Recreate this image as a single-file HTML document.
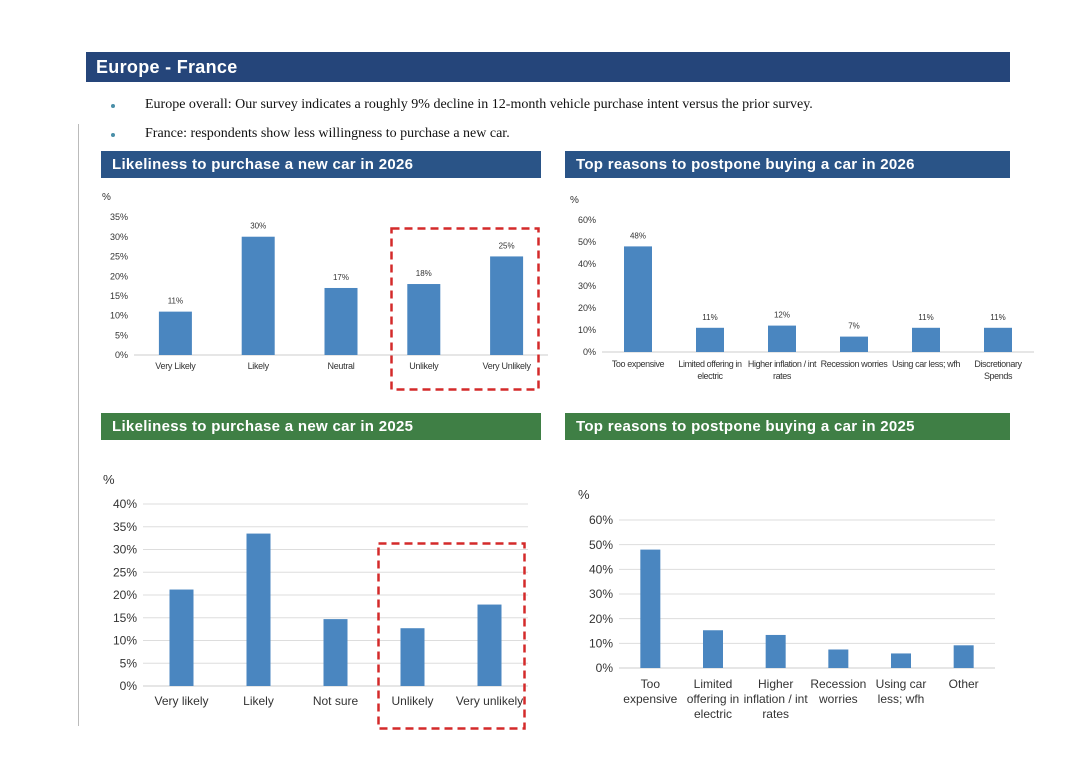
<!DOCTYPE html>
<html><head><meta charset="utf-8">
<style>
body{margin:0;width:1080px;height:764px;background:#fff;position:relative;overflow:hidden;font-family:"Liberation Sans",sans-serif}
.abs{position:absolute}
.hdr{position:absolute;color:#fff;font-weight:bold;font-size:15px;line-height:27px;padding-left:11px;box-sizing:border-box;letter-spacing:0.3px}
.bul{position:absolute;font-family:"Liberation Serif",serif;font-size:14px;color:#111}
.dot{position:absolute;width:4px;height:4px;border-radius:50%;background:#4a8fa8}
svg{position:absolute;left:0;top:0}
</style></head><body>
<div class="hdr" style="left:86px;top:52px;width:924px;height:30px;background:#25457a;font-size:18px;line-height:30px;padding-left:10px">Europe - France</div>
<div class="dot" style="left:111px;top:104px"></div>
<div class="bul" style="left:145px;top:97px">Europe overall: Our survey indicates a roughly 9% decline in 12-month vehicle purchase intent versus the prior survey.</div>
<div class="dot" style="left:111px;top:133px"></div>
<div class="bul" style="left:145px;top:126px">France: respondents show less willingness to purchase a new car.</div>
<div class="abs" style="left:78px;top:124px;width:1px;height:602px;background:#bbb"></div>
<div class="hdr" style="left:101px;top:151px;width:440px;height:27px;background:#2a5487">Likeliness to purchase a new car in 2026</div>
<div class="hdr" style="left:565px;top:151px;width:445px;height:27px;background:#2a5487">Top reasons to postpone buying a car in 2026</div>
<div class="hdr" style="left:101px;top:413px;width:440px;height:27px;background:#3f7f45">Likeliness to purchase a new car in 2025</div>
<div class="hdr" style="left:565px;top:413px;width:445px;height:27px;background:#3f7f45">Top reasons to postpone buying a car in 2025</div>
<svg id="s" width="1080" height="764"></svg>
<script>
const c1Cats=[["Very Likely"],["Likely"],["Neutral"],["Unlikely"],["Very Unlikely"]];
const c1Vals=[11,30,17,18,25];
const c1Ticks=[0,5,10,15,20,25,30,35];
const c2Cats=[["Too expensive"],["Limited offering in","electric"],["Higher inflation / int","rates"],["Recession worries"],["Using car less; wfh"],["Discretionary","Spends"]];
const c2Vals=[48,11,12,7,11,11];
const c2Ticks=[0,10,20,30,40,50,60];
const c3Cats=[["Very likely"],["Likely"],["Not sure"],["Unlikely"],["Very unlikely"]];
const c3Vals=[21.2,33.5,14.7,12.7,17.9];
const c3Ticks=[0,5,10,15,20,25,30,35,40];
const c4Cats=[["Too","expensive"],["Limited","offering in","electric"],["Higher","inflation / int","rates"],["Recession","worries"],["Using car","less; wfh"],["Other"]];
const c4Vals=[48,15.3,13.4,7.5,5.9,9.2];
const c4Ticks=[0,10,20,30,40,50,60];
const svg=document.getElementById('s');
const NS='http://www.w3.org/2000/svg';
function mk(tag,at,txt){const e=document.createElementNS(NS,tag);for(const k in at)e.setAttribute(k,at[k]);if(txt!=null)e.textContent=txt;svg.appendChild(e);return e;}
function chart(o,cats,vals,ticks){
  const max=ticks[ticks.length-1];
  const y=v=>o.y0-(v/max)*(o.y0-o.yTop);
  const step=(o.x1-o.x0)/cats.length;
  const cx=i=>o.x0+step*(i+0.5);
  let t=mk('text',{x:o.pctX,y:o.pctY,'font-size':o.fs+1,fill:'#333'},'%');
  
  
  ticks.forEach(v=>{
    if(o.grid&&v>0){const g=mk('line',{x1:o.x0,x2:o.x1,y1:y(v),y2:y(v),stroke:'#ddd','stroke-width':1});
      
      }
    const l=mk('text',{x:o.x0-6,y:y(v)+o.fs*0.35,'font-size':o.fs,'text-anchor':'end',fill:'#333'},v+'%');
    
    
  });
  const ax=mk('line',{x1:o.x0,x2:o.x1,y1:o.y0,y2:o.y0,stroke:'#ccc','stroke-width':1});
  
  
  vals.forEach((v,i)=>{
    const b=mk('rect',{x:cx(i)-o.bw/2,y:y(v),width:o.bw,height:o.y0-y(v),fill:'#4a86c0'});
    
    
    if(o.labels){const l=mk('text',{x:cx(i),y:y(v)-8,'font-size':o.fs-1,'text-anchor':'middle',fill:'#333'},Math.round(v)+'%');
      
      }
    cats[i].forEach((line,j)=>{
      const l=mk('text',{x:cx(i),y:o.y0+o.catDy+j*o.lh,'font-size':o.cfs,'text-anchor':'middle',fill:'#333','letter-spacing':o.ls||0},line);
      
      
    });
  });
}
chart({x0:134,x1:548,y0:355,yTop:217,bw:33,fs:9,cfs:9,pctX:102,pctY:200,labels:true,grid:false,catDy:14,lh:12,ls:-0.3},c1Cats,c1Vals,c1Ticks);
chart({x0:602,x1:1034,y0:352,yTop:220,bw:28,fs:9,cfs:9,pctX:570,pctY:203,labels:true,grid:false,catDy:15,lh:12,ls:-0.4},c2Cats,c2Vals,c2Ticks);
chart({x0:143,x1:528,y0:686,yTop:504,bw:24,fs:12,cfs:12,pctX:103,pctY:484,labels:false,grid:true,catDy:19,lh:15},c3Cats,c3Vals,c3Ticks);
chart({x0:619,x1:995,y0:668,yTop:520,bw:20,fs:12,cfs:12,pctX:578,pctY:499,labels:false,grid:true,catDy:20,lh:15},c4Cats,c4Vals,c4Ticks);
let r=mk('rect',{x:391.5,y:228.5,width:147,height:161,fill:'none',stroke:'#d42a2a','stroke-width':2.5,'stroke-dasharray':'8 5'});


r=mk('rect',{x:378.5,y:543.5,width:146,height:185,fill:'none',stroke:'#d42a2a','stroke-width':2.5,'stroke-dasharray':'8 5'});


</script>
</body></html>
